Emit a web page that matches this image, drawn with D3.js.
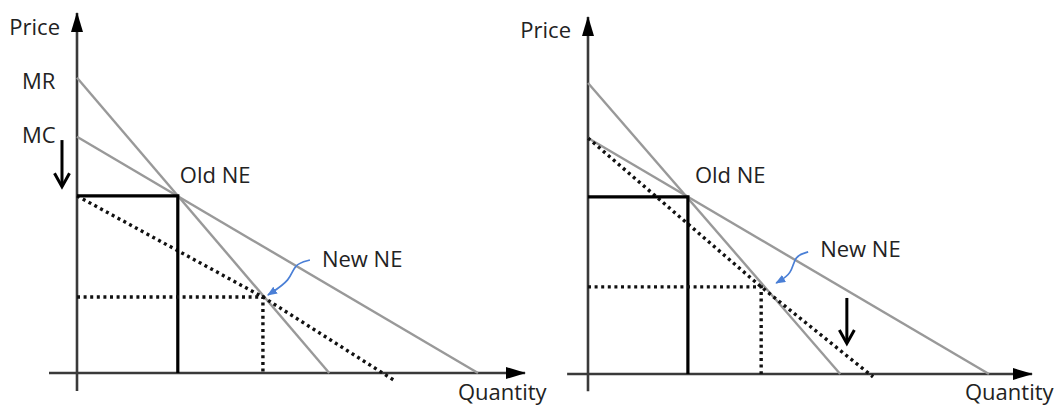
<!DOCTYPE html>
<html>
<head>
<meta charset="utf-8">
<script src="https://cdn.jsdelivr.net/npm/d3@7"></script>
<style>
  body { margin: 0; background: #fff; }
  svg { display: block; }
  text { font-family: "Open Sans", sans-serif; font-size: 22px; fill: #222; }
</style>
</head>
<body>
<svg id="chart" width="1059" height="406"></svg>
<script>
// values in chart units: quantity 0..100, price 0..100 (origin at the axes' corner)
const axisLabels = ['Price', 'Quantity'];
const curveLabels = ['MR', 'MC'];
const pointLabels = ['Old NE', 'New NE'];

// left panel: MC shifts down, drawn from the old NE price
const mrLeft = [[0, 82], [56.3, 0]];
const mcLeft = [[0, 65.6], [89.5, 0]];
const newMcLeft = [[0, 49.2], [41.5, 21.1], [71, -2.2]];
const oldNeLeft = [22.5, 49.2];
const newNeLeft = [41.5, 21.1];
const shiftLeft = [[-3.35, 64.7], [-3.35, 51.9]];

// right panel: MC pivots from the same price intercept
const mrRight = [[0, 81.5], [56.8, 0]];
const mcRight = [[0, 66.1], [90.3, 0]];
const newMcRight = [[0, 66.1], [39, 24.4], [64.2, -0.8]];
const oldNeRight = [22.5, 49.6];
const newNeRight = [39, 24.4];
const shiftRight = [[58.3, 21.3], [58.3, 8.7]];

const panels = [
  { x: [77, 525], y: [373, 13], xStart: -6.25, yStart: -5,
    mr: mrLeft, mc: mcLeft, newMc: newMcLeft, oldNe: oldNeLeft, newNe: newNeLeft,
    shift: shiftLeft, curveNames: true,
    oldDx: 2, oldDy: -13, priceDy: 22, qDy: 27,
    hook: [[47, -37], [31, -33], [28, -17], [5, -2]] },
  { x: [588, 1032], y: [374, 17], xStart: -4.7, yStart: -4.8,
    mr: mrRight, mc: mcRight, newMc: newMcRight, oldNe: oldNeRight, newNe: newNeRight,
    shift: shiftRight, curveNames: false,
    oldDx: 7, oldDy: -14, priceDy: 21, qDy: 26,
    hook: [[47, -35], [33, -31], [31, -13], [15, -4]] }
];

const svg = d3.select('#chart');
const defs = svg.append('defs');

defs.append('marker')
  .attr('id', 'axis-head')
  .attr('viewBox', '0 0 20 12')
  .attr('refX', 19).attr('refY', 6)
  .attr('markerWidth', 20).attr('markerHeight', 12)
  .attr('markerUnits', 'userSpaceOnUse')
  .attr('orient', 'auto')
  .append('path').attr('d', 'M0,0 L20,6 L0,12 Z').attr('fill', '#000');

defs.append('marker')
  .attr('id', 'blue-head')
  .attr('viewBox', '0 0 10 8')
  .attr('refX', 9).attr('refY', 4)
  .attr('markerWidth', 10).attr('markerHeight', 8)
  .attr('markerUnits', 'userSpaceOnUse')
  .attr('orient', 'auto')
  .append('path').attr('d', 'M0,0 L10,4 L0,8 Z').attr('fill', '#4a7fd6');

panels.forEach(function (p) {
  const x = d3.scaleLinear().domain([0, 100]).range(p.x);
  const y = d3.scaleLinear().domain([0, 100]).range(p.y);
  const line = d3.line().x(d => x(d[0])).y(d => y(d[1]));
  const g = svg.append('g');

  // axes
  g.append('path')
    .attr('d', line([[p.xStart, 0], [100, 0]]))
    .attr('stroke', '#3a3a3a').attr('stroke-width', 2.6).attr('fill', 'none')
    .attr('marker-end', 'url(#axis-head)');
  g.append('path')
    .attr('d', line([[0, p.yStart], [0, 100]]))
    .attr('stroke', '#3a3a3a').attr('stroke-width', 2.6).attr('fill', 'none')
    .attr('marker-end', 'url(#axis-head)');

  // MR and MC
  [p.mr, p.mc].forEach(function (c) {
    g.append('path')
      .attr('d', line(c))
      .attr('stroke', '#999').attr('stroke-width', 2.4).attr('fill', 'none');
  });

  // shifted MC
  g.append('path')
    .attr('d', line(p.newMc))
    .attr('stroke', '#111').attr('stroke-width', 3.4).attr('fill', 'none')
    .attr('stroke-dasharray', '3,3.6');

  // old equilibrium guides
  g.append('path')
    .attr('d', line([[0, p.oldNe[1]], p.oldNe, [p.oldNe[0], 0]]))
    .attr('stroke', '#000').attr('stroke-width', 3.2).attr('fill', 'none');

  // new equilibrium guides
  g.append('path')
    .attr('d', line([[0, p.newNe[1]], p.newNe, [p.newNe[0], 0]]))
    .attr('stroke', '#111').attr('stroke-width', 3.4).attr('fill', 'none')
    .attr('stroke-dasharray', '3,3.6');

  // shift arrow
  const s1 = p.shift[1];
  g.append('path')
    .attr('d', line(p.shift))
    .attr('stroke', '#000').attr('stroke-width', 3).attr('fill', 'none');
  g.append('path')
    .attr('d', 'M' + (x(s1[0]) - 7.5) + ',' + (y(s1[1]) - 13) +
      ' L' + x(s1[0]) + ',' + (y(s1[1]) + 0.5) +
      ' L' + (x(s1[0]) + 7.5) + ',' + (y(s1[1]) - 13))
    .attr('stroke', '#000').attr('stroke-width', 3).attr('fill', 'none')
    .attr('stroke-linejoin', 'miter');

  // blue hook pointing at the new NE
  const nx = x(p.newNe[0]), ny = y(p.newNe[1]);
  g.append('path')
    .attr('d', d3.line().curve(d3.curveBasis)(p.hook.map(d => [nx + d[0], ny + d[1]])))
    .attr('stroke', '#4a7fd6').attr('stroke-width', 1.7).attr('fill', 'none')
    .attr('marker-end', 'url(#blue-head)');

  // labels
  g.append('text')
    .attr('x', x(0) - 17).attr('y', y(100) + p.priceDy)
    .attr('text-anchor', 'end').text(axisLabels[0]);
  g.append('text')
    .attr('x', x(100) - 67).attr('y', y(0) + p.qDy)
    .text(axisLabels[1]);
  g.append('text')
    .attr('x', x(p.oldNe[0]) + p.oldDx).attr('y', y(p.oldNe[1]) + p.oldDy)
    .text(pointLabels[0]);
  g.append('text')
    .attr('x', nx + 59).attr('y', ny - 30)
    .text(pointLabels[1]);

  if (p.curveNames) {
    g.append('text')
      .attr('x', x(0) - 55).attr('y', y(p.mr[0][1]) + 11)
      .text(curveLabels[0]);
    g.append('text')
      .attr('x', x(0) - 55).attr('y', y(p.mc[0][1]) + 6)
      .text(curveLabels[1]);
  }
});
</script>
</body>
</html>
